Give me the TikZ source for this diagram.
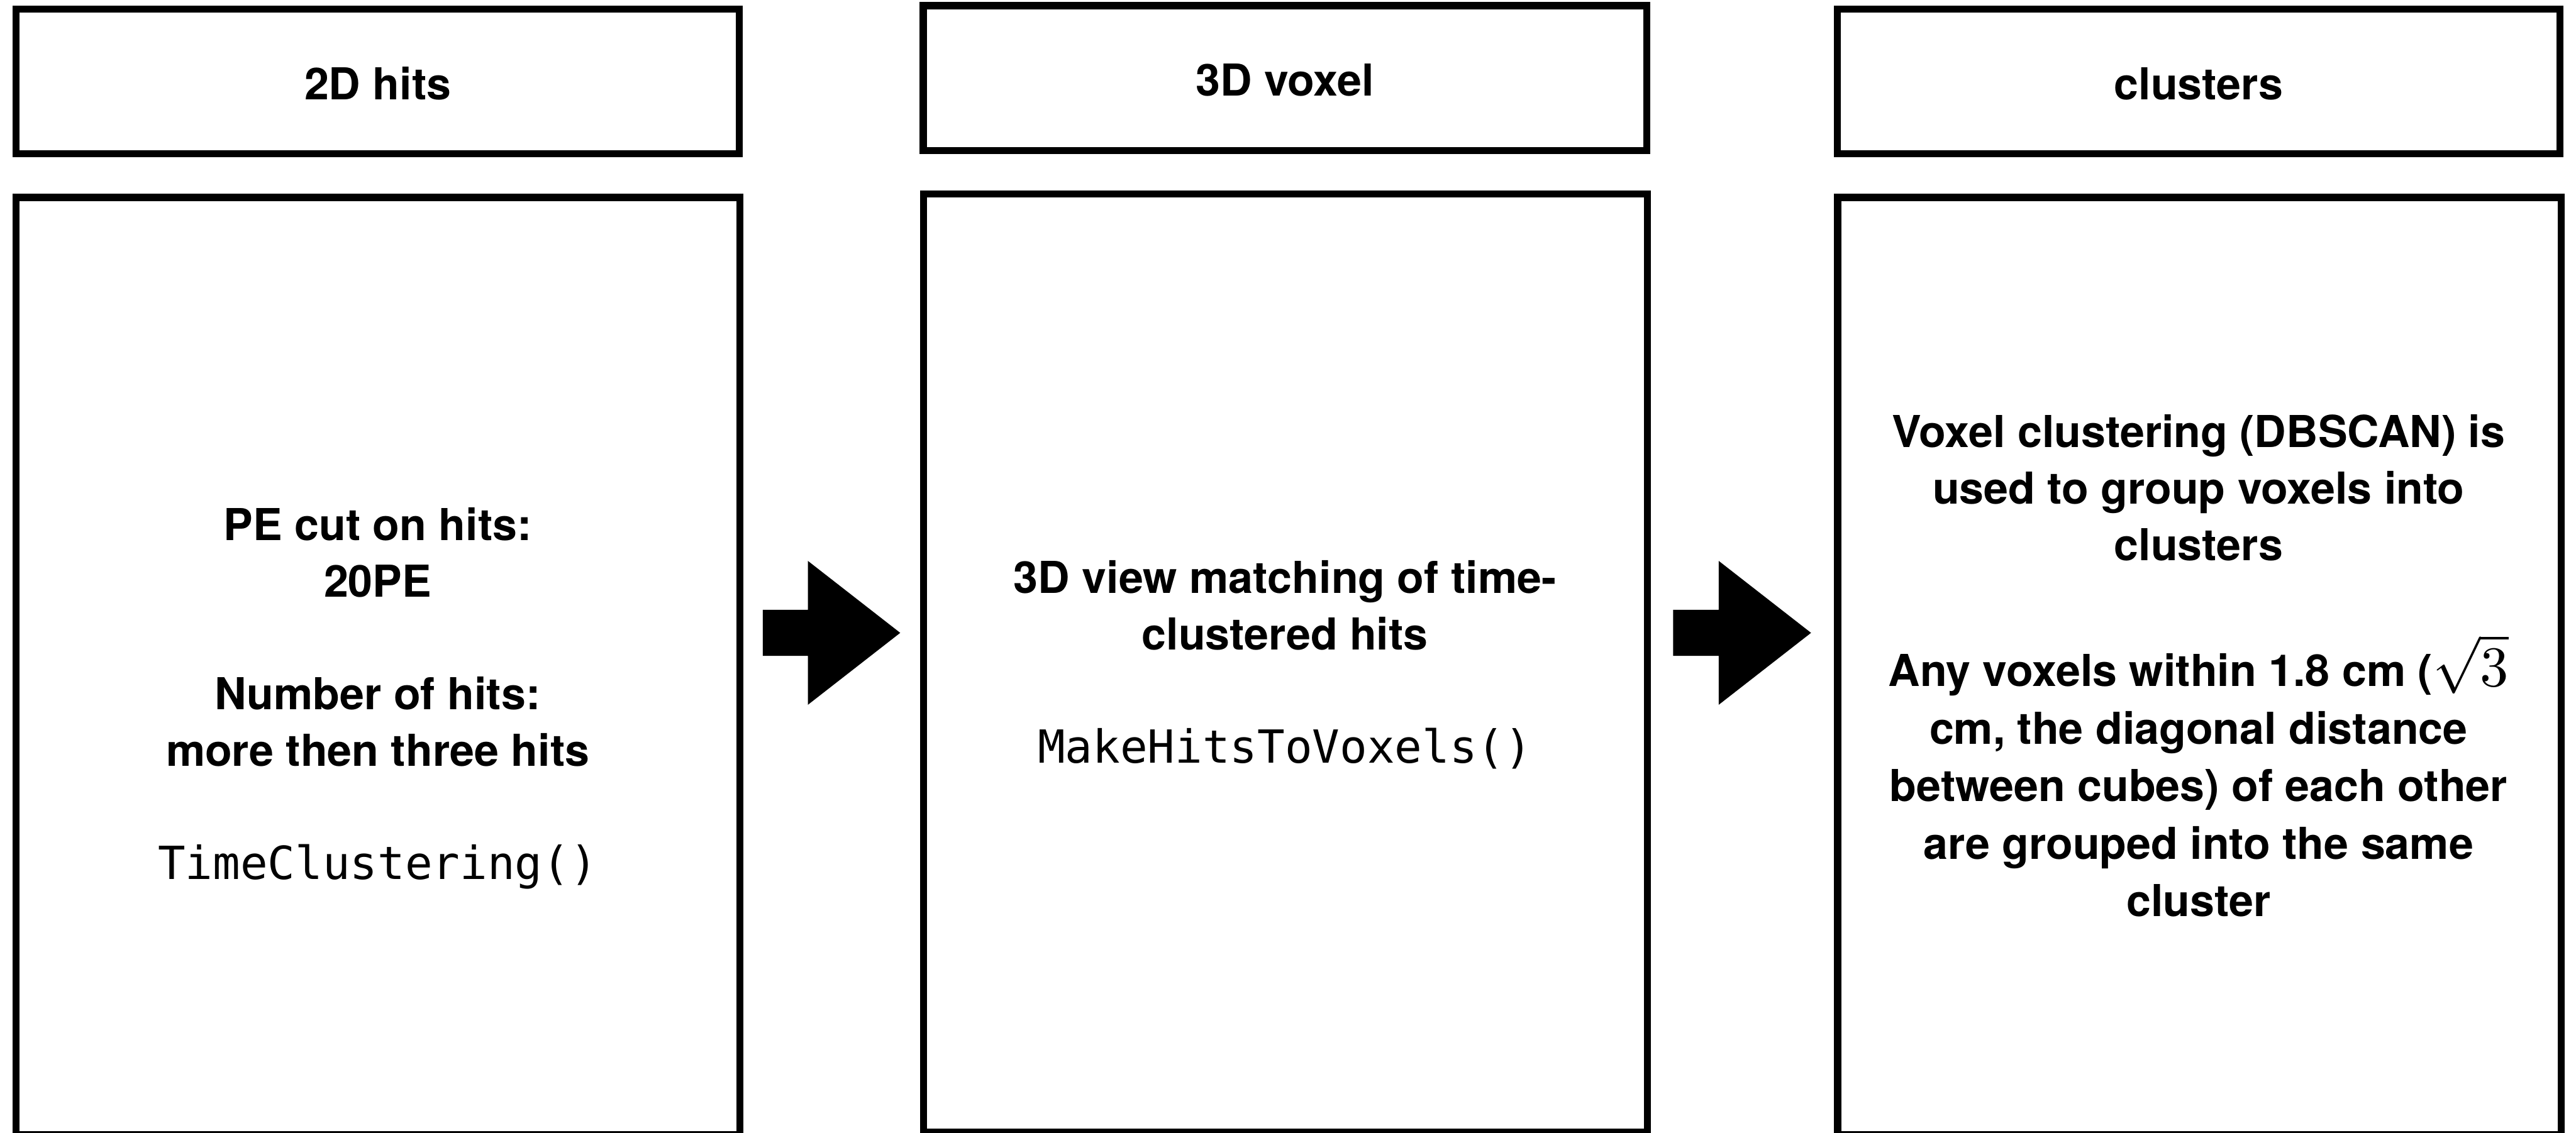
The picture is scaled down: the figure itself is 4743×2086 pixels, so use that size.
\documentclass[tikz,border=0pt]{standalone}
\usepackage{graphicx}
\usepackage{fontspec}
\setmainfont{TeX Gyre Heros}
\newfontfamily\codefont{DejaVu Sans Mono}
\usetikzlibrary{calc}
\newcommand\blockarrow[2]{%
  \fill[arrowfill] let \p1=(#1), \p2=(#2) in
    (\x1,\y1+42.5pt) -- (\x2-170pt,\y1+42.5pt) -- (\x2-170pt,\y1+132.5pt) --
    (\x2,\y1) -- (\x2-170pt,\y1-132.5pt) -- (\x2-170pt,\y1-42.5pt) --
    (\x1,\y1-42.5pt) -- cycle;}
\newcommand\codetext[1]{{\codefont\mdseries\fontsize{84}{104}\selectfont #1}}
\newcommand\rootthree{\scalebox{10.5}{\fontsize{10}{12}\selectfont$\sqrt{3}$}}
\begin{document}
\begin{tikzpicture}[x=1pt,y=-1pt,
  frame/.style={draw=black, line width=13pt, rectangle, inner sep=0pt, fill=none},
  titletext/.style={font=\fontsize{81}{104}\selectfont\bfseries, anchor=base, inner sep=0pt},
  body/.style={align=center, font=\fontsize{81}{104}\selectfont\bfseries, anchor=base, inner sep=0pt},
  arrowfill/.style={fill=black}]
\useasboundingbox (0,0) rectangle (4743,2086);
\clip (0,0) rectangle (4743,2086);
\fill[white] (0,0) rectangle (4743,2086);

% header boxes
\node[frame, minimum width=1332pt, minimum height=267pt] (t1) at (695.5,150) {};
\node[frame, minimum width=1332.5pt, minimum height=267pt] (t2) at (2366,144) {};
\node[frame, minimum width=1330.5pt, minimum height=267pt] (t3) at (4048,150) {};
\node[titletext] (t1l) at (695.5,183) {2D hits};
\node[titletext] (t2l) at (2366,177) {3D voxel};
\node[titletext] (t3l) at (4048,183) {clusters};

% body boxes
\node[frame, minimum width=1332.5pt, minimum height=1726pt] (b1) at (695.75,1226.5) {};
\node[frame, minimum width=1333pt, minimum height=1727pt] (b2) at (2366.5,1221) {};
\node[frame, minimum width=1332pt, minimum height=1726.5pt] (b3) at (4049.5,1226.75) {};

% body texts (anchored at the baseline of their last line)
\node[body] (x1) at (695.5,1619) {PE cut on hits:\\20PE\\[104pt]Number of hits:\\more then three hits\\[104pt]\codetext{TimeClustering()}};
\node[body] (x2) at (2366,1405) {3D view matching of time-\\clustered hits\\[104pt]\codetext{MakeHitsToVoxels()}};
\node[body] (x3) at (4048,1688) {Voxel clustering (DBSCAN) is\\used to group voxels into\\clusters\\[128pt]Any voxels within 1.8 cm (\rootthree\\[2pt]cm, the diagonal distance\\[2pt]between cubes) of each other\\[2pt]are grouped into the same\\[2pt]cluster};

% block arrows
\coordinate (a1s) at ($(b1.east)+(36,-61)$);
\coordinate (a1e) at ($(b2.west)+(-36,-55.5)$);
\coordinate (a2s) at ($(b2.east)+(41,-55.5)$);
\coordinate (a2e) at ($(b3.west)+(-42.5,-61.25)$);
\blockarrow{a1s}{a1e}
\blockarrow{a2s}{a2e}
\end{tikzpicture}
\end{document}
